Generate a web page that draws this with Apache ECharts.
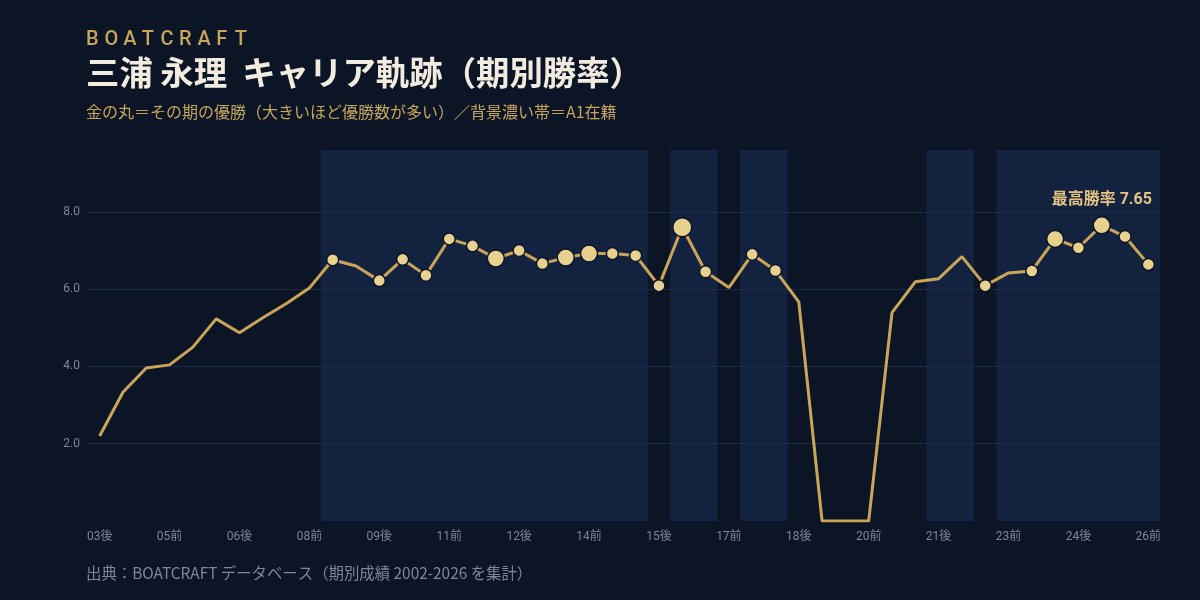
<!DOCTYPE html>
<html><head><meta charset="utf-8">
<script src="https://cdn.jsdelivr.net/npm/echarts@6/dist/echarts.min.js"></script>
<style>html,body{margin:0;background:#0b1526;}#c{width:1200px;height:600px;}</style>
</head><body><div id="c"></div>
<script>
const categories = [];
for (let y = 3; y <= 26; y++) {
  const yy = String(y).padStart(2, '0');
  if (y > 3) categories.push(yy + '前');
  if (y < 26) categories.push(yy + '後');
}
const winRate = [2.2,3.33,3.96,4.04,4.5,5.23,4.87,5.26,5.62,6.03,6.76,6.6,6.22,6.77,6.36,7.3,7.12,6.79,7.0,6.66,6.82,6.92,6.92,6.87,6.09,7.6,6.45,6.04,6.9,6.48,5.67,0,0,0,5.39,6.19,6.27,6.84,6.09,6.42,6.47,7.3,7.07,7.65,7.36,6.64];
const wins = [0,0,0,0,0,0,0,0,0,0,1,0,1,1,1,1,1,2,1,1,2,2,1,1,1,3,1,0,1,1,0,0,0,0,0,0,0,0,1,0,1,2,1,2,1,1];
const a1 = [0,0,0,0,0,0,0,0,0,0,1,1,1,1,1,1,1,1,1,1,1,1,1,1,0,1,1,0,1,1,0,0,0,0,0,0,1,1,0,1,1,1,1,1,1,1];
const yTicks = [2,4,6,8];
const yMax = 9.6;
const maxIdx = winRate.indexOf(Math.max(...winRate));

const data = winRate.map((v,i)=>{
  const w = wins[i];
  const item = {value:v, symbolSize: w===0?0: (w===1?12:(w===2?17:19))};
  if (i===maxIdx) item.label = {show:true, position:'top', distance:8, formatter:'最高勝率 '+v.toFixed(2), color:'#e3c47f', fontSize:16, fontWeight:'bold', fontFamily:'Roboto, "Noto Sans CJK JP"'};
  return item;
});

const brand = 'BOATCRAFT';
const brandText = brand.split('').map((ch,i)=>({type:'text',left:86+i*18.6,top:30,style:{text:ch,fill:'#c9a55a',font:'500 20px Roboto, sans-serif'}}));

const chart = echarts.init(document.getElementById('c'));
chart.setOption({
  backgroundColor:'#0b1526',
  textStyle:{fontFamily:'Roboto, "Noto Sans CJK JP", sans-serif'},
  graphic:brandText.concat([
    {type:'text',left:86,top:56,style:{text:'三浦 永理  キャリア軌跡（期別勝率）',fill:'#f2ece0',font:'bold 33.4px "Noto Sans CJK JP"'}},
    {type:'text',left:86,top:104,style:{text:'金の丸＝その期の優勝（大きいほど優勝数が多い）／背景濃い帯＝A1在籍',fill:'#c9a55a',font:'16px "Noto Sans CJK JP"'}},
    {type:'text',left:86,top:565,style:{text:'出典：BOATCRAFT データベース（期別成績 2002-2026 を集計）',fill:'#7d8799',font:'15.4px "Noto Sans CJK JP"'}}
  ]),
  grid:{left:88,right:40,top:150,bottom:79},
  xAxis:{type:'category',data:categories,boundaryGap:true,
    axisLine:{show:false},axisTick:{show:false},
    axisLabel:{interval:2,color:'#7d8799',fontSize:12,margin:10}},
  yAxis:{type:'value',min:0,max:yMax,interval:2,
    axisLabel:{color:'#7d8799',fontSize:12,formatter:v=>yTicks.includes(v)?v.toFixed(1):''},
    splitLine:{show:false},axisLine:{show:false},axisTick:{show:false}},
  series:[
    {type:'bar',data:a1.map(f=>f?yMax:null),barWidth:'104%',barGap:'-100%',silent:true,
     itemStyle:{color:'#13233f'},z:1,
     markLine:{silent:true,symbol:'none',label:{show:false},lineStyle:{color:'#1c2c48',type:'solid',width:1},
       data:yTicks.map(t=>({yAxis:t}))}},
    {type:'line',data:data,symbol:'circle',showAllSymbol:true,
    lineStyle:{color:'#c9a55a',width:3},
    itemStyle:{color:'#e8d08e',borderColor:'#0b1526',borderWidth:1.5},
    emphasis:{disabled:true},z:5}
  ],
  animation:false
});
</script></body></html>
